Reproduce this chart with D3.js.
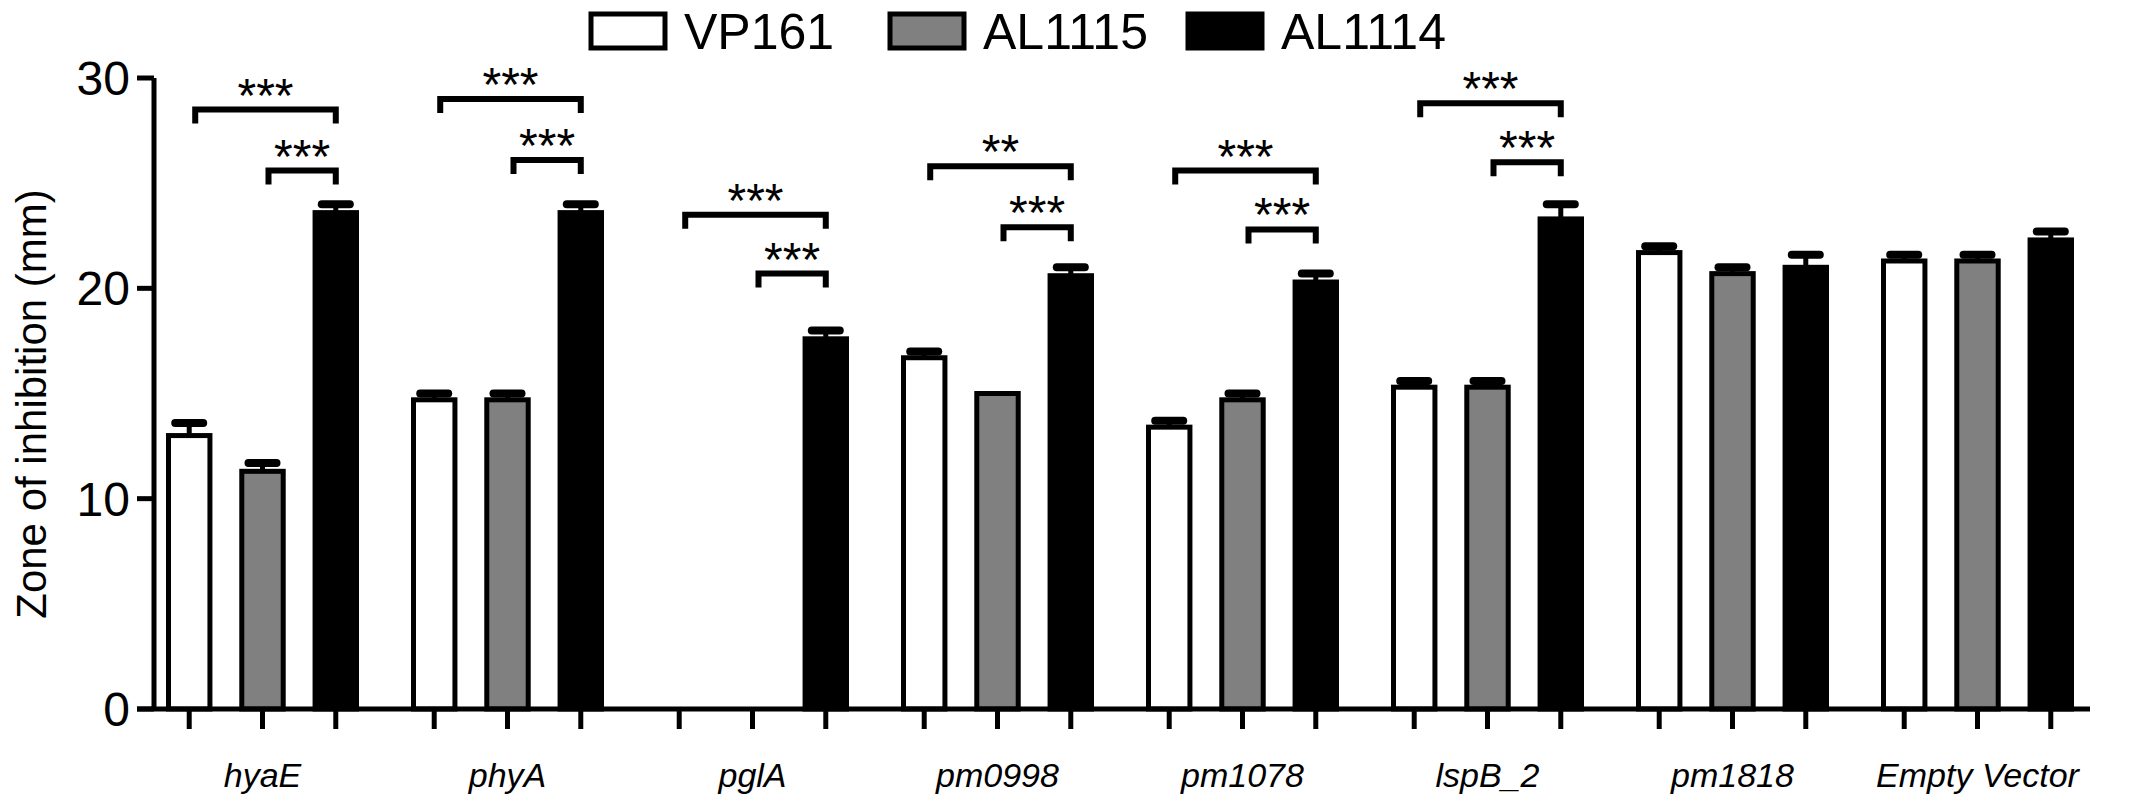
<!DOCTYPE html>
<html><head><meta charset="utf-8">
<script src="https://cdn.jsdelivr.net/npm/d3@7"></script>
<style>body{margin:0;background:#fff}</style></head>
<body><svg id="c" width="2156" height="800"></svg>
<script>
const categories=["hyaE","phyA","pglA","pm0998","pm1078","lspB_2","pm1818","Empty Vector"];
const seriesNames=["VP161","AL1115","AL1114"];
const seriesColors=["#ffffff","#808080","#000000"];
const vp161=[13.0,14.7,0,16.7,13.4,15.3,21.7,21.3];
const vp161Err=[0.6,0.3,0,0.3,0.3,0.3,0.3,0.3];
const al1115=[11.3,14.7,0,15.0,14.7,15.3,20.7,21.3];
const al1115Err=[0.4,0.3,0,0,0.3,0.3,0.3,0.3];
const al1114=[23.6,23.6,17.6,20.6,20.3,23.3,21.0,22.3];
const al1114Err=[0.4,0.4,0.4,0.4,0.4,0.7,0.6,0.4];
const yTicks=[0,10,20,30];
const brackets=[
 [0,0,2,28.5,"***"],[0,1,2,25.6,"***"],
 [1,0,2,29.0,"***"],[1,1,2,26.1,"***"],
 [2,0,2,23.5,"***"],[2,1,2,20.7,"***"],
 [3,0,2,25.8,"**"],[3,1,2,22.9,"***"],
 [4,0,2,25.6,"***"],[4,1,2,22.8,"***"],
 [5,0,2,28.8,"***"],[5,1,2,26.0,"***"]];

const vals=[vp161,al1115,al1114], errs=[vp161Err,al1115Err,al1114Err];
const svg=d3.select("#c");
const x0=d3.scaleBand().domain(categories).range([140,2100]);
const x1=d3.scaleBand().domain([0,1,2]).range([-96,96]).paddingInner(0.38);
const y=d3.scaleLinear().domain([0,30]).range([709,78]);
const bw=x1.bandwidth();
const cx=(ci,s)=>x0(categories[ci])+x0.bandwidth()/2+x1(s)+bw/2;
const F="Liberation Sans, Arial";

categories.forEach((c,ci)=>{
  [0,1,2].forEach(s=>{
    const v=vals[s][ci], e=errs[s][ci], xc=cx(ci,s);
    if(v>0){
      svg.append("rect").attr("x",xc-bw/2+2).attr("y",y(v)).attr("width",bw-4).attr("height",y(0)-y(v))
        .attr("fill",seriesColors[s]).attr("stroke","#000").attr("stroke-width",5);
      if(e>0){
        svg.append("line").attr("x1",xc).attr("x2",xc).attr("y1",y(v)).attr("y2",y(v+e)).attr("stroke","#000").attr("stroke-width",5);
        svg.append("line").attr("x1",xc-14).attr("x2",xc+14).attr("y1",y(v+e)).attr("y2",y(v+e)).attr("stroke","#000").attr("stroke-width",8).attr("stroke-linecap","round");
      }
    }
    svg.append("line").attr("x1",xc).attr("x2",xc).attr("y1",y(0)).attr("y2",y(0)+20).attr("stroke","#000").attr("stroke-width",5);
  });
  svg.append("text").attr("x",x0(c)+x0.bandwidth()/2).attr("y",787).attr("text-anchor","middle")
    .attr("font-family",F).attr("font-style","italic").attr("font-size",34).text(c);
});

svg.append("line").attr("x1",137).attr("x2",2090).attr("y1",y(0)).attr("y2",y(0)).attr("stroke","#000").attr("stroke-width",5);
svg.append("line").attr("x1",154).attr("x2",154).attr("y1",y(0)).attr("y2",y(30)).attr("stroke","#000").attr("stroke-width",5);
yTicks.forEach(t=>{
  svg.append("line").attr("x1",137).attr("x2",154).attr("y1",y(t)).attr("y2",y(t)).attr("stroke","#000").attr("stroke-width",5);
  svg.append("text").attr("x",130).attr("y",y(t)+17).attr("text-anchor","end")
    .attr("font-family",F).attr("font-size",48).text(t);
});
svg.append("text").attr("transform","translate(46,"+y(14.5)+") rotate(-90)").attr("text-anchor","middle")
  .attr("font-family",F).attr("font-size",42).text("Zone of inhibition (mm)");

brackets.forEach(([ci,a,b,lv,lab])=>{
  const xa=cx(ci,a)+6, xb=cx(ci,b), yy=y(lv);
  svg.append("path").attr("d",`M${xa},${yy+14}V${yy}H${xb}V${yy+14}`).attr("fill","none").attr("stroke","#000").attr("stroke-width",6);
  svg.append("text").attr("x",(xa+xb)/2).attr("y",yy+2).attr("text-anchor","middle")
    .attr("font-family",F).attr("font-size",48).text(lab);
});

const legX=[591,890,1188];
seriesNames.forEach((n,i)=>{
  svg.append("rect").attr("x",legX[i]).attr("y",14).attr("width",74).attr("height",34)
    .attr("fill",seriesColors[i]).attr("stroke","#000").attr("stroke-width",5);
  svg.append("text").attr("x",legX[i]+93).attr("y",49).attr("font-family",F).attr("font-size",50).text(n);
});
</script></body></html>
